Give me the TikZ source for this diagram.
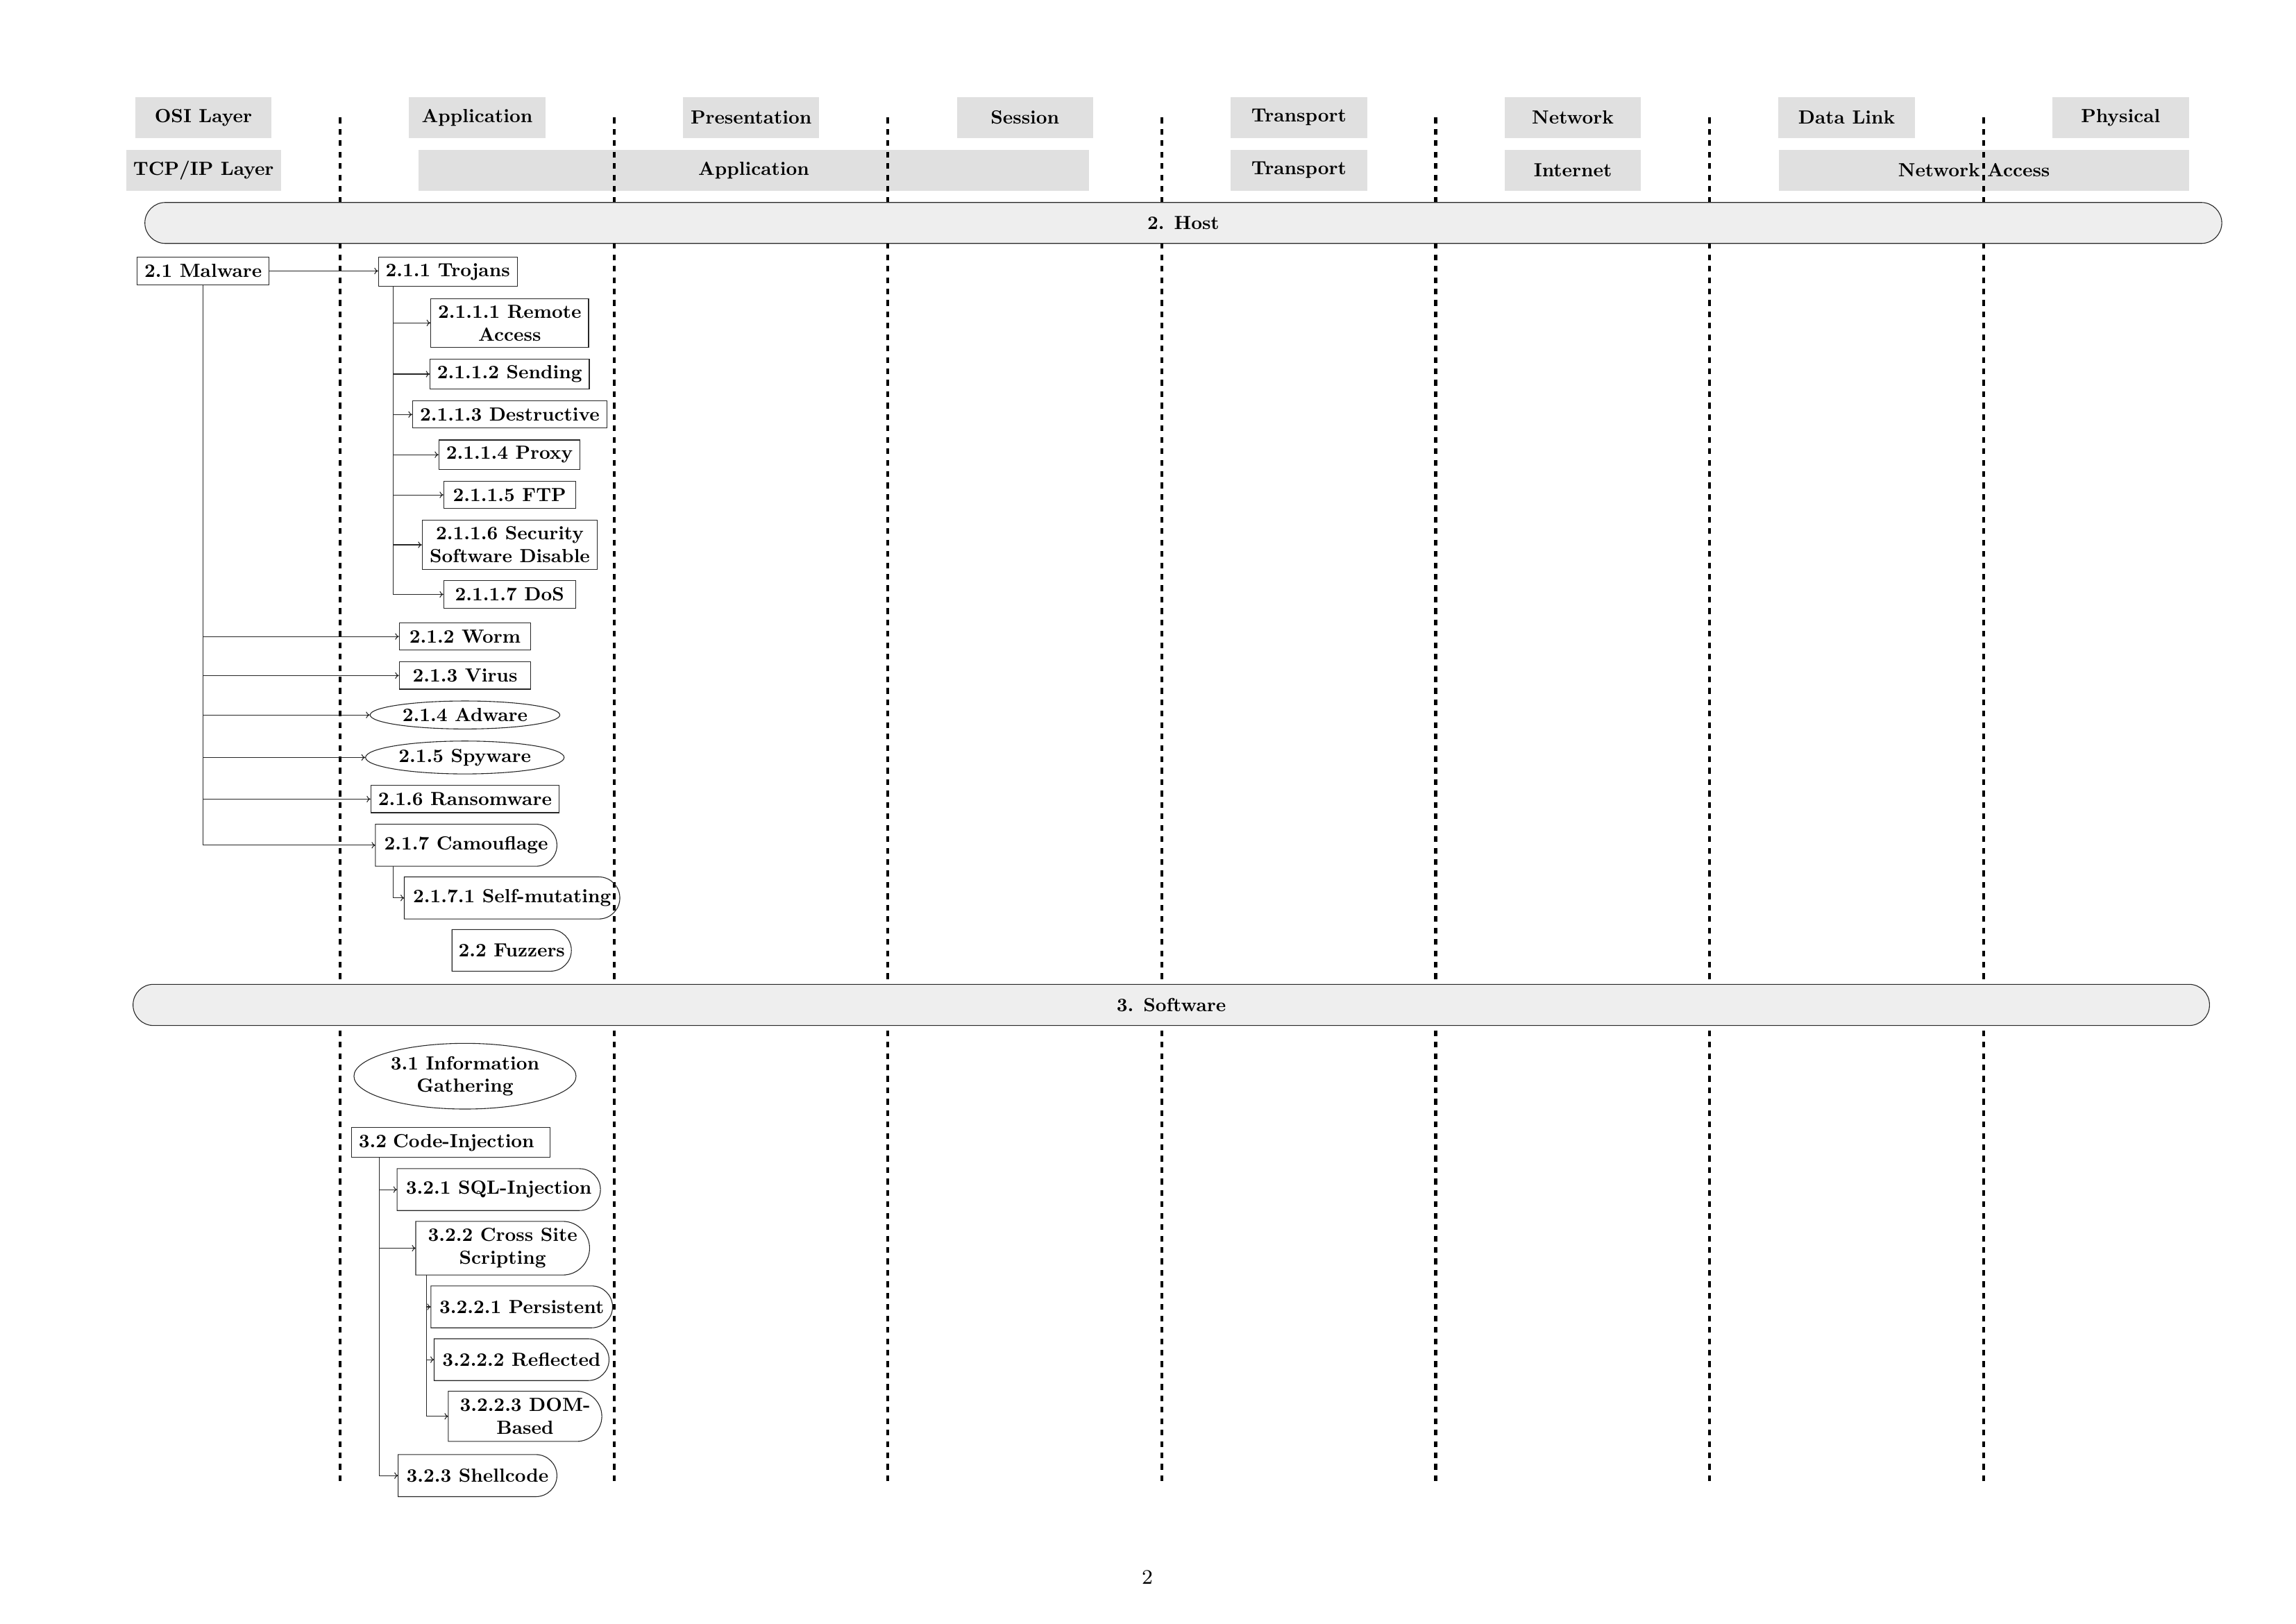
\documentclass[tikz,border=0pt]{standalone}
\usetikzlibrary{calc,arrows.meta,shapes.geometric}
\font\nbf="[lmroman10-bold]:mapping=tex-text" at 7pt
\newcommand{\rrshape}[1]{\draw[outl] let \p1=(#1.north east), \p2=(#1.south east), \n1={0.5*(\y1-\y2)} in (#1.south west) -- (#1.north west) -- ({\x1-\n1},\y1) arc[start angle=90, end angle=-90, radius=\n1] -- cycle;}
\tikzset{
  lbl/.style={font=\fontsize{7}{8.4}\selectfont\nbf},
  hdr/.style={lbl, fill=black!12, inner sep=0pt, minimum height=0.527cm, minimum width=1.764cm},
  outl/.style={line width=0.28pt, draw=black!85},
  bar/.style={lbl, outl, fill=black!6.5, rounded corners=0.265cm, inner sep=0pt},
  box/.style={lbl, outl, inner sep=0pt, align=center},
  oval/.style={box, ellipse},
  rr/.style={lbl, inner sep=0pt, align=center},
  conn/.style={line width=0.28pt, draw=black!85, -{To[length=1.4pt,width=2.4pt]}},
  colsep/.style={line width=1.1pt, dash pattern=on 2.1pt off 2.1pt}
}
\begin{document}
\begin{tikzpicture}
\useasboundingbox (0,0) rectangle (29.7,-21);
% OSI row
\node[hdr] (o0) at (2.630,-1.52) {OSI Layer};
\node[hdr] (o1) at (6.173,-1.52) {Application};
\node[hdr] (o2) at (9.716,-1.52) {Presentation};
\node[hdr] (o3) at (13.259,-1.52) {Session};
\node[hdr] (o4) at (16.802,-1.52) {Transport};
\node[hdr] (o5) at (20.345,-1.52) {Network};
\node[hdr] (o6) at (23.888,-1.52) {Data Link};
\node[hdr] (o7) at (27.431,-1.52) {Physical};
% TCP/IP row
\node[hdr, minimum width=2.0cm] (tcp) at (2.632,-2.203) {TCP/IP Layer};
\node[hdr, minimum width=8.68cm] (tapp) at (9.75,-2.203) {Application};
\node[hdr] (ttr) at (16.802,-2.203) {Transport};
\node[hdr] (tint) at (20.345,-2.203) {Internet};
\node[hdr, minimum width=5.30cm] (tna) at (25.665,-2.203) {Network Access\hspace*{0.26cm}};
% column separators
\foreach \k in {0,...,6}{
  \draw[colsep] ({4.40+3.543*\k},-1.52) -- ({4.40+3.543*\k},-19.18);
}
% section bars
\node[bar, minimum width=26.866cm, minimum height=0.53cm] (host) at (15.307,-2.884) {2. Host};
\node[bar, minimum width=26.86cm, minimum height=0.533cm] (soft) at (15.151,-13.0) {3. Software};
% 2.1 Malware
\node[box, minimum width=1.706cm, minimum height=0.353cm] (mal) at (2.628,-3.505) {2.1 Malware};
\node[box, minimum width=1.794cm, minimum height=0.377cm] (tro) at (5.793,-3.517) {2.1.1 Trojans};
\node[box, minimum width=2.041cm, minimum height=0.631cm] (t1) at (6.593,-4.177) {2.1.1.1 Remote\\Access};
\node[box, minimum width=2.059cm, minimum height=0.382cm] (t2) at (6.593,-4.839) {2.1.1.2 Sending};
\node[box, minimum width=2.515cm, minimum height=0.351cm] (t3) at (6.594,-5.362) {2.1.1.3 Destructive};
\node[box, minimum width=1.826cm, minimum height=0.380cm] (t4) at (6.590,-5.882) {2.1.1.4 Proxy};
\node[box, minimum width=1.703cm, minimum height=0.353cm] (t5) at (6.592,-6.402) {2.1.1.5 FTP};
\node[box, minimum width=2.266cm, minimum height=0.634cm] (t6) at (6.595,-7.048) {2.1.1.6 Security\\Software Disable};
\node[box, minimum width=1.703cm, minimum height=0.353cm] (t7) at (6.592,-7.689) {2.1.1.7 DoS};
\node[box, minimum width=1.702cm, minimum height=0.350cm] (worm) at (6.016,-8.234) {2.1.2 Worm};
\node[box, minimum width=1.702cm, minimum height=0.352cm] (virus) at (6.016,-8.739) {2.1.3 Virus};
\node[oval, minimum width=2.454cm, minimum height=0.362cm] (adw) at (6.015,-9.249) {2.1.4 Adware};
\node[oval, minimum width=2.569cm, minimum height=0.425cm] (spy) at (6.013,-9.799) {2.1.5 Spyware};
\node[box, minimum width=2.436cm, minimum height=0.353cm] (ran) at (6.015,-10.337) {2.1.6 Ransomware};
\node[rr, minimum width=2.334cm, minimum height=0.530cm] (cam) at (6.030,-10.934) {2.1.7 Camouflage};
\node[rr, minimum width=2.774cm, minimum height=0.530cm] (self) at (6.624,-11.616) {2.1.7.1 Self-mutating};
\node[rr, minimum width=1.530cm, minimum height=0.525cm] (fuz) at (6.619,-12.294) {2.2 Fuzzers};
% 3. Software
\node[oval, minimum width=2.873cm, minimum height=0.85cm] (info) at (6.015,-13.922) {3.1 Information\\Gathering};
\node[box, align=left, text width=2.385cm, inner xsep=0.093cm, minimum height=0.386cm] (code) at (5.832,-14.78) {3.2 Code-Injection};
\node[rr, minimum width=2.616cm, minimum height=0.527cm] (sql) at (6.452,-15.389) {3.2.1 SQL-Injection};
\node[rr, minimum width=2.235cm, minimum height=0.680cm] (xss) at (6.502,-16.147) {3.2.2 Cross Site\\Scripting};
\node[rr, minimum width=2.335cm, minimum height=0.528cm] (per) at (6.749,-16.906) {3.2.2.1 Persistent};
\node[rr, minimum width=2.248cm, minimum height=0.527cm] (refl) at (6.747,-17.589) {3.2.2.2 Reflected};
\node[rr, minimum width=1.972cm, minimum height=0.635cm] (dom) at (6.792,-18.322) {3.2.2.3 DOM-\\Based};
\node[rr, minimum width=2.040cm, minimum height=0.530cm] (shc) at (6.177,-19.089) {3.2.3 Shellcode};
% outlines of right-rounded nodes
\foreach \q in {cam,self,fuz,sql,xss,per,refl,dom,shc}{\rrshape{\q}}
% connectors
\draw[conn] (mal.east) -- (mal.east -| tro.west);
\foreach \c in {worm,virus,adw,spy,ran,cam}{\draw[conn] (mal.south) |- (\c.west);}
\foreach \c in {t1,t2,t3,t4,t5,t6,t7}{\draw[conn] ([xshift=0.192cm]tro.south west) |- (\c.west);}
\draw[conn] ([xshift=0.234cm]cam.south west) |- (self.west);
\foreach \c in {sql,xss,shc}{\draw[conn] ([xshift=0.365cm]code.south west) |- (\c.west);}
\foreach \c in {per,refl,dom}{\draw[conn] ([xshift=0.138cm]xss.south west) |- (\c.west);}
% page number
\node[font=\fontsize{7.6}{9}\selectfont, inner sep=0pt] (pg) at (14.84,-20.40) {2};
\end{tikzpicture}
\end{document}
